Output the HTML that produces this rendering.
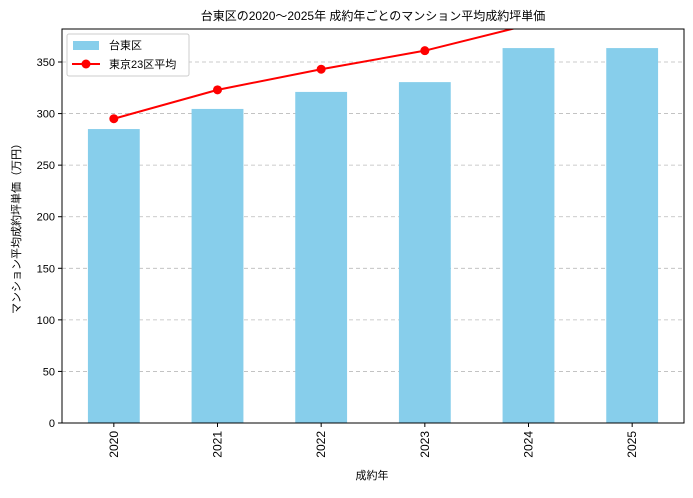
<!DOCTYPE html>
<html><head><meta charset="utf-8"><style>
body{margin:0;background:#fff;font-family:"Liberation Sans","Noto Sans CJK JP",sans-serif;}
</style></head><body>
<svg id="chart" width="693" height="493" xmlns="http://www.w3.org/2000/svg" font-family="Liberation Sans, Noto Sans CJK JP, sans-serif">
<text x="373" y="20" text-anchor="middle" font-size="12">台東区の2020〜2025年 成約年ごとのマンション平均成約坪単価</text>
<defs><clipPath id="pc"><rect x="62" y="29" width="622" height="394"/></clipPath></defs>
<g id="grid"></g>
<g id="bars"></g>
<g id="line" clip-path="url(#pc)"></g>
<rect x="62" y="29" width="622" height="394" fill="none" stroke="#000" stroke-width="1"/>
<g id="axes"></g>
<text x="372" y="479" text-anchor="middle" font-size="11">成約年</text>
<text transform="translate(20,226) rotate(-90)" text-anchor="middle" font-size="11">マンション平均成約坪単価（万円）</text>
<g>
<rect x="67" y="34" width="122" height="42" fill="#fff" stroke="#ccc" rx="2"/>
<rect x="73" y="41" width="26" height="9" fill="#87CEEB"/>
<text x="109" y="49" font-size="11">台東区</text>
<line x1="72" y1="64" x2="100" y2="64" stroke="red" stroke-width="2"/>
<circle cx="86" cy="64" r="4.5" fill="red"/>
<text x="109" y="68" font-size="11">東京23区平均</text>
</g>
</svg>
<script>
const years=["2020","2021","2022","2023","2024","2025"];
const taito=[285,304.5,321,330.5,363.5,363.5];
const tokyo=[295,323,343,361,386,405];
const yTicks=[0,50,100,150,200,250,300,350];
const x0=62,x1=684,y0=423,y1=29,yMax=382;
const NS="http://www.w3.org/2000/svg";
const xs=i=>x0+(i+0.5)*(x1-x0)/years.length;
const ys=v=>y0-(v/yMax)*(y0-y1);
function mk(t,a,p){const e=document.createElementNS(NS,t);for(const k in a)e.setAttribute(k,a[k]);p.appendChild(e);return e;}
const g=document.getElementById('grid'),b=document.getElementById('bars'),l=document.getElementById('line'),ax=document.getElementById('axes');
yTicks.forEach(v=>{
 const y=ys(v);
 if(v>0){const gl=mk('line',{x1:x0,x2:x1,y1:y,y2:y,stroke:'#bbb','stroke-dasharray':'4,3','stroke-width':0.8},g);
 
 }
 mk('line',{x1:x0-4,x2:x0,y1:y,y2:y,stroke:'#000'},ax);
 const t=mk('text',{x:x0-7,y:y+4,'text-anchor':'end','font-size':11},ax);t.textContent=v;
 
 
});
const bw=(x1-x0)/years.length*0.5;
years.forEach((yr,i)=>{
 const x=xs(i);
 const r=mk('rect',{x:x-bw/2,y:ys(taito[i]),width:bw,height:y0-ys(taito[i]),fill:'#87CEEB'},b);
 
 
 mk('line',{x1:x,x2:x,y1:y0,y2:y0+4,stroke:'#000'},ax);
 const t=mk('text',{transform:`translate(${x+4},${y0+8}) rotate(-90)`,'text-anchor':'end','font-size':12},ax);t.textContent=yr;
 
 
});
const pl=mk('polyline',{points:tokyo.map((v,i)=>xs(i)+','+ys(v)).join(' '),fill:'none',stroke:'red','stroke-width':2},l);


tokyo.forEach((v,i)=>{const c=mk('circle',{cx:xs(i),cy:ys(v),r:4.5,fill:'red'},l);
 
 });
</script>
</body></html>
